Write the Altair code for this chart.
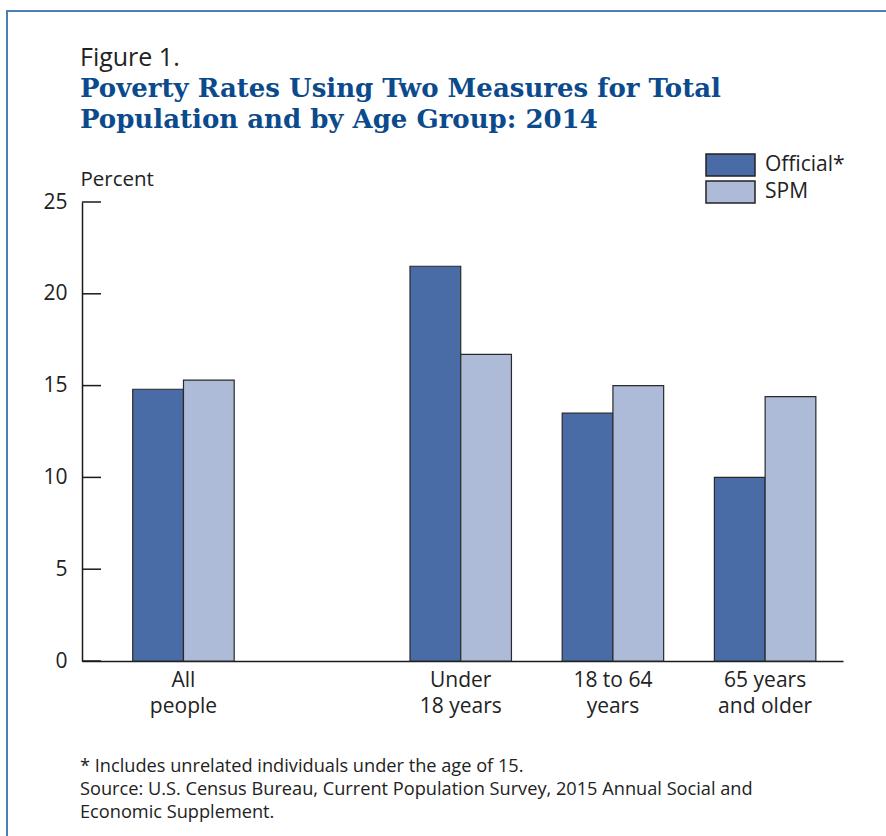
import altair as alt
import pandas as pd

# ---- data ----
categories = ["All people", "Under 18 years", "18 to 64 years", "65 years and older"]
cat_labels = ["All\npeople", "Under\n18 years", "18 to 64\nyears", "65 years\nand older"]
measures = ["Official*", "SPM"]
official = [14.8, 21.5, 13.5, 10.0]
spm = [15.3, 16.7, 15.0, 14.4]
y_ticks = [0, 5, 10, 15, 20, 25]

fig_label = "Figure 1."
title_text = "Poverty Rates Using Two Measures for Total\nPopulation and by Age Group: 2014"
footnote_lines = ["* Includes unrelated individuals under the age of 15.",
                  "Source: U.S. Census Bureau, Current Population Survey, 2015 Annual Social and",
                  "Economic Supplement."]

# ---- layout (slot scale) ----
group_slot = [4.0, 14.93, 20.93, 26.93]
bar_w = 2.0
X_MAX = 30.0

W, H = 761, 459
BODY_FONT = "Open Sans"
TITLE_FONT = "DejaVu Serif"
TEXT_COLOR = "#222222"

rows = []
for i, c in enumerate(categories):
    for j, (m, vals) in enumerate(zip(measures, [official, spm])):
        x0 = group_slot[i] - bar_w + j * bar_w
        rows.append({"category": c, "measure": m, "value": vals[i], "x0": x0, "x1": x0 + bar_w})
bars_df = pd.DataFrame(rows)
labels_df = pd.DataFrame({"center": group_slot, "label": cat_labels})
ticks_df = pd.DataFrame({"v": y_ticks})

xscale = alt.Scale(domain=[0, X_MAX], nice=False, zero=False)
yscale = alt.Scale(domain=[0, 25], nice=False)

bars = alt.Chart(bars_df).mark_bar(stroke="#2a2a2a", strokeWidth=1.2, opacity=1).encode(
    x=alt.X("x0:Q", scale=xscale,
            axis=alt.Axis(labels=False, ticks=False, grid=False, title=None,
                          domainColor="#1a1a1a", domainWidth=1.5)),
    x2="x1:Q",
    y=alt.Y("value:Q", scale=yscale,
            axis=alt.Axis(values=y_ticks, tickSize=0, labelPadding=15, grid=False,
                          domainColor="#1a1a1a", domainWidth=1.5,
                          labelFont=BODY_FONT, labelFontSize=21, labelColor=TEXT_COLOR,
                          title="Percent", titleAngle=0, titleAlign="left",
                          titleBaseline="alphabetic", titleX=-2, titleY=-17,
                          titleFont=BODY_FONT, titleFontSize=20.5, titleFontWeight="normal",
                          titleColor=TEXT_COLOR)),
    y2=alt.datum(0),
    color=alt.Color("measure:N",
                    scale=alt.Scale(domain=measures, range=["#4a6ca6", "#adbad8"]),
                    legend=alt.Legend(title=None, orient="none", legendX=636.5, legendY=-49,
                                      symbolType="M-2.227,-1H2.227V1H-2.227Z", symbolSize=484,
                                      symbolStrokeColor="#222222", symbolStrokeWidth=1.5,
                                      symbolOpacity=1, labelFont=BODY_FONT, labelFontSize=21,
                                      labelColor=TEXT_COLOR, labelOffset=22.5, rowPadding=-1,
                                      padding=0)),
)

tick_rules = alt.Chart(ticks_df).mark_rule(color="#1a1a1a", strokeWidth=1.5).encode(
    y=alt.Y("v:Q", scale=yscale),
    x=alt.value(0), x2=alt.value(19),
)

xlabels = alt.Chart(labels_df).mark_text(
    font=BODY_FONT, fontSize=21, color=TEXT_COLOR, lineBreak="\n", lineHeight=26,
    align="center", baseline="alphabetic"
).encode(
    x=alt.X("center:Q", scale=xscale),
    y=alt.value(485),
    text="label:N",
)

one = alt.Data(values=[{"a": 1}])

fig_txt = alt.Chart(one).mark_text(
    text=fig_label, font=BODY_FONT, fontSize=25, color=TEXT_COLOR,
    align="left", baseline="alphabetic"
).encode(x=alt.value(-2), y=alt.value(-136))

title_txt = alt.Chart(one).mark_text(
    text=title_text, font=TITLE_FONT, fontSize=26, fontWeight="bold", color="#0b4a8c",
    align="left", baseline="alphabetic", lineBreak="\n", lineHeight=31
).encode(x=alt.value(-2), y=alt.value(-105))

foot_layers = []
for k, line in enumerate(footnote_lines):
    foot_layers.append(alt.Chart(one).mark_text(
        text=line, font=BODY_FONT, fontSize=18.2, color=TEXT_COLOR,
        align="left", baseline="alphabetic"
    ).encode(x=alt.value(-2), y=alt.value(570 + 23 * k)))

border = alt.Chart(one).mark_rect(fill=None, stroke="#4f7db6", strokeWidth=2).encode(
    x=alt.value(-75), y=alt.value(-191), x2=alt.value(900), y2=alt.value(900)
)

chart = alt.layer(border, bars, tick_rules, xlabels, fig_txt, title_txt, *foot_layers).properties(
    width=W, height=H,
    autosize=alt.AutoSizeParams(type="none"),
    padding={"left": 82, "top": 202, "right": 43, "bottom": 175},
    background="white",
).configure_view(stroke=None)

chart.save("out.html", embed_options={"renderer": "svg", "actions": False})
